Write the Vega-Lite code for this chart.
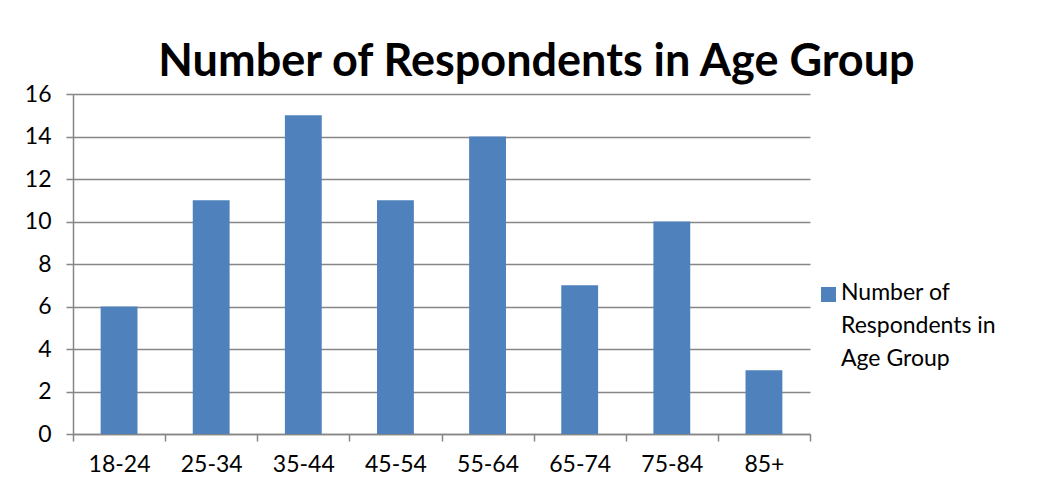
{
  "$schema": "https://vega.github.io/schema/vega-lite/v6.json",
  "autosize": "none",
  "width": 737,
  "height": 340,
  "padding": {"left": 73, "top": 94, "right": 241, "bottom": 65},
  "background": "white",
  "title": {
    "text": "Number of Respondents in Age Group",
    "font": "Lato",
    "fontSize": 45,
    "fontWeight": "bold",
    "color": "#000000",
    "anchor": "middle",
    "dx": 95,
    "offset": -2
  },
  "data": {
    "values": [
      {"age": "18-24", "count": 6},
      {"age": "25-34", "count": 11},
      {"age": "35-44", "count": 15},
      {"age": "45-54", "count": 11},
      {"age": "55-64", "count": 14},
      {"age": "65-74", "count": 7},
      {"age": "75-84", "count": 10},
      {"age": "85+", "count": 3}
    ]
  },
  "mark": {"type": "bar", "width": {"band": 0.4}},
  "encoding": {
    "x": {
      "field": "age",
      "type": "nominal",
      "sort": null,
      "scale": {"paddingInner": 0, "paddingOuter": 0},
      "axis": {
        "title": null,
        "labelAngle": 0,
        "labelFont": "Lato",
        "labelFontSize": 23,
        "labelColor": "#000000",
        "labelPadding": 12,
        "tickBand": "extent",
        "tickSize": 7,
        "tickColor": "#868686",
        "domainColor": "#868686",
        "grid": false
      }
    },
    "y": {
      "field": "count",
      "type": "quantitative",
      "scale": {"domain": [0, 16], "nice": false},
      "axis": {
        "title": null,
        "values": [0, 2, 4, 6, 8, 10, 12, 14, 16],
        "labelFont": "Lato",
        "labelFontSize": 23,
        "labelColor": "#000000",
        "labelPadding": 15,
        "tickSize": 7,
        "tickColor": "#868686",
        "domainColor": "#868686",
        "gridColor": "#868686",
        "gridWidth": 1.5
      }
    },
    "color": {
      "datum": "Number of Respondents in Age Group",
      "type": "nominal",
      "scale": {"range": ["#4F81BD"]},
      "legend": {
        "title": null,
        "orient": "none",
        "legendX": 744,
        "legendY": 189,
        "symbolType": "square",
        "symbolSize": 225,
        "symbolStrokeWidth": 0,
        "labelFont": "Lato",
        "labelFontSize": 23,
        "labelColor": "#000000",
        "labelOffset": 1,
        "labelLimit": 300,
        "labelBaseline": "middle",
        "labelExpr": "['Number of', 'Respondents in', 'Age Group']",
        "encode": {
          "labels": {"update": {"lineHeight": {"value": 33}, "baseline": {"value": "top"}, "dy": {"value": -13}}}
        }
      }
    }
  },
  "config": {
    "view": {"stroke": null},
    "axis": {"domainWidth": 1.5, "tickWidth": 1.5}
  }
}
